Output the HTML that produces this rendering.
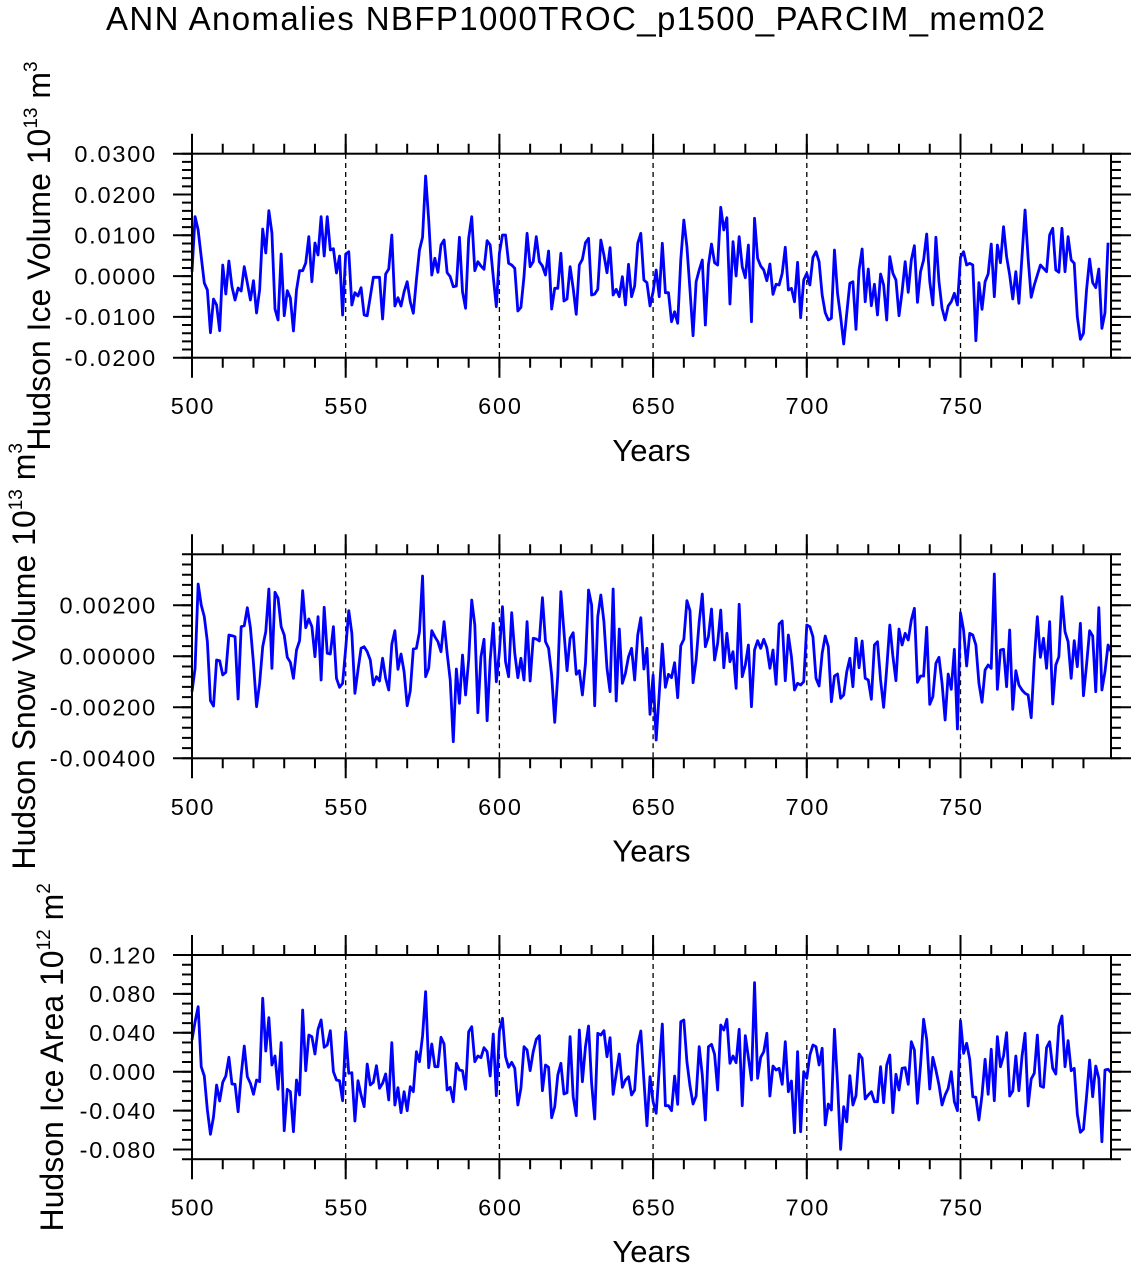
<!DOCTYPE html>
<html><head><meta charset="utf-8"><style>
html,body{margin:0;padding:0;background:#fff;}
svg{display:block;}
text{font-family:"Liberation Sans",Arial,sans-serif;fill:#000;}
.yt{font-size:23.5px;letter-spacing:1.8px;text-anchor:end;}
.xt{font-size:23.5px;letter-spacing:1.8px;text-anchor:middle;}
.yr{font-size:31px;text-anchor:middle;}
.yl{font-size:32px;text-anchor:middle;}
</style></head><body>
<svg width="1136" height="1268" viewBox="0 0 1136 1268" xmlns="http://www.w3.org/2000/svg">
<rect width="1136" height="1268" fill="#fff"/>
<text x="575.5" y="30" font-size="33" text-anchor="middle" textLength="939" lengthAdjust="spacing">ANN Anomalies NBFP1000TROC_p1500_PARCIM_mem02</text>

<!-- dashed verticals -->
<g stroke="#000" stroke-width="1.3" stroke-dasharray="5 4" fill="none">
<path d="M345.7 154V357.7M499.4 154V357.7M653.1 154V357.7M806.8 154V357.7M960.5 154V357.7"/>
<path d="M345.7 554.3V758.3M499.4 554.3V758.3M653.1 554.3V758.3M806.8 554.3V758.3M960.5 554.3V758.3"/>
<path d="M345.7 955V1159.2M499.4 955V1159.2M653.1 955V1159.2M806.8 955V1159.2M960.5 955V1159.2"/>
</g>

<!-- data -->
<g fill="none" stroke="#0000ff" stroke-width="2.8" stroke-linejoin="round">
<polyline transform="translate(192,0) scale(3.074,1)" vector-effect="non-scaling-stroke" points="0,271.7 1,216.7 2,230 3,256.7 4,283 5,290 6,332.7 7,299 8,305 9,330.7 10,265 11,294 12,261 13,286.7 14,300 15,288 16,291 17,266.7 18,283 19,300 20,280.7 21,313 22,290 23,229 24,253 25,210.7 26,233 27,309 28,320 29,254 30,315.7 31,290.7 32,298 33,331 34,290 35,270.7 36,270.7 37,263 38,236.7 39,281.7 40,243 41,255 42,216.7 43,256 44,216.7 45,250 46,248.7 47,273 48,256 49,315 50,254 51,251.7 52,305 53,292.7 54,296 55,287.7 56,315 57,315.7 58,296.7 59,277.3 60,277.3 61,277.3 62,319 63,274 64,269 65,235 66,306 67,297.7 68,306 69,291.7 70,281.7 71,301.7 72,313.3 73,280 74,250 75,237.3 76,176 77,220 78,275 79,258.3 80,272.3 81,245 82,240 83,272.7 84,276.7 85,286.7 86,286 87,237.3 88,291.7 89,308.3 90,238.3 91,216.7 92,270.7 93,261.7 94,266 95,269.3 96,240.7 97,245 98,276.7 99,306.7 100,253.3 101,235 102,235 103,263.3 104,265 105,268.3 106,311 107,307.3 108,276.7 109,233.3 110,266.7 111,261.7 112,236.7 113,261.7 114,266 115,275 116,251 117,309 118,288.3 119,288.3 120,253.3 121,301 122,299 123,266.7 124,288.3 125,314.3 126,265 127,259.3 128,242.7 129,238.3 130,295 131,294 132,289.3 133,240 134,255 135,272.7 136,247.7 137,295 138,289.3 139,296.7 140,276.7 141,305 142,264.3 143,296.7 144,286 145,243.3 146,233.3 147,280 148,282.7 149,306 150,291.7 151,270 152,296.7 153,243.3 154,292.7 155,292.7 156,321.7 157,311.7 158,323.3 159,260 160,220 161,246.7 162,290 163,335.7 164,281.7 165,270 166,260 167,325 168,265 169,244 170,262.7 171,265 172,207.3 173,230 174,217.7 175,304 176,241.7 177,276 178,236.7 179,266.7 180,277.7 181,245 182,321.7 183,218.3 184,258.3 185,266 186,270 187,280.7 188,264 189,294.3 190,284.3 191,285 192,273.3 193,247.3 194,290 195,288.3 196,301.7 197,262.3 198,317.7 199,280 200,273.3 201,285 202,257.3 203,251.7 204,261.7 205,295 206,312.7 207,320 208,318.3 209,250 210,293.3 211,316.7 212,344 213,313.3 214,283.3 215,281.7 216,329.3 217,270 218,249 219,301.7 220,269 221,305.7 222,284.3 223,315 224,274 225,285 226,320 227,256.7 228,273.3 229,280 230,315.7 231,291.7 232,261.7 233,292.3 234,260 235,245.7 236,302.3 237,271.7 238,260 239,234 240,281.7 241,305 242,237.3 243,281.7 244,308.3 245,320 246,306 247,301.7 248,293.3 249,305 250,257.3 251,251.7 252,265 253,263.3 254,265 255,340.7 256,282.7 257,309.3 258,281.7 259,274 260,244 261,296.7 262,245 263,262.7 264,226.7 265,256.7 266,275 267,299 268,271.7 269,303.3 270,256.7 271,210 272,258.3 273,297.3 274,285 275,275 276,265 277,268.3 278,271.7 279,235 280,228.3 281,270 282,272.3 283,228.3 284,271.7 285,236.7 286,260 287,263.3 288,316.7 289,339.3 290,333.3 291,290 292,259 293,282.7 294,287.7 295,269 296,328.3 297,312.7 298,242.7"/>
<polyline transform="translate(192,0) scale(3.074,1)" vector-effect="non-scaling-stroke" points="0,691.7 1,668.3 2,584 3,605 4,616.7 5,641.7 6,700.7 7,706 8,660 9,660.7 10,675 11,672.3 12,635 13,635.7 14,636.7 15,699 16,626.7 17,625.7 18,607.7 19,627.7 20,663.3 21,706.7 22,683.3 23,646.7 24,631.7 25,589 26,668.3 27,592.3 28,598.3 29,626.7 30,635 31,657.3 32,662.3 33,678.3 34,650 35,640.7 36,590.7 37,627.7 38,619 39,626.7 40,656.7 41,616.7 42,680 43,607.3 44,653.3 45,654 46,626.7 47,678.3 48,687.3 49,683.3 50,648.3 51,610.7 52,633.3 53,693.3 54,670 55,648.3 56,646.7 57,651.7 58,660 59,685 60,676.7 61,681 62,658.3 63,678.3 64,690 65,644.3 66,630.7 67,669.3 68,654 69,671.7 70,705.7 71,691 72,649 73,648.3 74,631.7 75,576 76,676.7 77,668.3 78,630.7 79,636.7 80,641.7 81,651.7 82,621.7 83,653.3 84,680 85,741.7 86,669 87,703.3 88,655 89,695 90,660 91,600 92,625 93,712.7 94,656.7 95,639.3 96,720.7 97,660 98,623.3 99,681.7 100,651.7 101,606.7 102,661.7 103,676.7 104,612.7 105,653.3 106,677.7 107,658.3 108,680 109,621.7 110,681 111,638.3 112,639 113,641 114,597.7 115,641.7 116,648.3 117,675 118,722.3 119,675 120,591.7 121,631.7 122,670.7 123,638.3 124,632.7 125,674.3 126,670.7 127,695 128,663.3 129,590 130,605 131,705.7 132,616.7 133,595 134,621.7 135,668.3 136,691.7 137,589 138,701 139,629 140,683.3 141,673.3 142,656.7 143,648.3 144,680 145,635 146,617.7 147,669 148,648.3 149,714.3 150,675 151,740 152,693.3 153,644 154,687.3 155,674.3 156,677.7 157,662.7 158,697.7 159,645.7 160,639.3 161,600.7 162,610.7 163,682.7 164,660 165,621.7 166,594 167,646.7 168,636.7 169,609 170,660 171,643.3 172,610 173,667.7 174,633.3 175,661.7 176,651.7 177,688.3 178,604.3 179,676.7 180,665 181,645 182,706.7 183,650 184,640.7 185,648.3 186,639.3 187,647.7 188,668.3 189,650 190,684.3 191,624 192,621 193,680.7 194,635 195,656.7 196,690 197,683.3 198,685 199,681.7 200,625 201,626.7 202,636.7 203,678.3 204,686 205,653.3 206,636 207,646.7 208,701.7 209,676 210,674 211,698.3 212,695 213,671.7 214,658.3 215,686.7 216,638.3 217,667.7 218,641 219,678.3 220,680 221,699.3 222,645 223,641.7 224,680 225,707.3 226,668.3 227,625 228,656 229,680.7 230,629 231,645 232,633.3 233,640 234,620 235,608.3 236,682.3 237,676 238,676 239,627.3 240,704.3 241,696.7 242,663.3 243,657.3 244,683.3 245,720 246,674 247,689.3 248,649.3 249,729 250,612.7 251,630 252,666 253,633.3 254,635 255,645 256,683.3 257,702.3 258,670 259,665 260,668.3 261,574 262,689.3 263,650 264,649.3 265,686.7 266,630 267,709.3 268,670.7 269,685 270,690 271,693.3 272,695 273,717.7 274,660 275,616.7 276,657.3 277,638.3 278,668.3 279,621.7 280,704 281,665 282,656.7 283,596.7 284,631.7 285,641.7 286,678.3 287,640.7 288,666.7 289,623.3 290,695.7 291,665 292,630.7 293,636 294,691.7 295,607.7 296,690 297,671.7 298,645 299,651.7"/>
<polyline transform="translate(192,0) scale(3.074,1)" vector-effect="non-scaling-stroke" points="0,1040 1,1021.7 2,1006.7 3,1066.7 4,1076 5,1110 6,1134.3 7,1116.7 8,1085 9,1101 10,1082.3 11,1076 12,1057.3 13,1084 14,1084.3 15,1111.7 16,1075 17,1046 18,1076.7 19,1083.3 20,1094.3 21,1080 22,1081.7 23,998.3 24,1051 25,1017.7 26,1065 27,1056 28,1089.3 29,1042.7 30,1130.7 31,1089.3 32,1091.7 33,1131.7 34,1080 35,1095 36,1010 37,1070.7 38,1035 39,1036.7 40,1054 41,1029.3 42,1020 43,1047.3 44,1045 45,1030.7 46,1071.7 47,1080 48,1080.7 49,1100.7 50,1031.7 51,1073.3 52,1072.7 53,1121 54,1080.7 55,1095 56,1106.7 57,1064 58,1085 59,1082.3 60,1065.7 61,1088.3 62,1083.3 63,1074 64,1100 65,1042.7 66,1105 67,1087.7 68,1112.7 69,1091.7 70,1110.7 71,1086.7 72,1091.7 73,1051.7 74,1061.7 75,1036 76,991.7 77,1067.7 78,1044 79,1066.7 80,1066.7 81,1037.3 82,1044 83,1090 84,1087.3 85,1101.7 86,1063.3 87,1070 88,1070.7 89,1089.3 90,1031.7 91,1026.7 92,1061.7 93,1056 94,1057.7 95,1047.7 96,1051.7 97,1076 98,1034 99,1095.7 100,1031 101,1018.3 102,1056.7 103,1067.3 104,1062.3 105,1068.3 106,1105 107,1088.3 108,1046.7 109,1050 110,1070.7 111,1051.7 112,1039.3 113,1035.7 114,1090.7 115,1065 116,1067.3 117,1117.7 118,1106.7 119,1075 120,1063.3 121,1094 122,1092.7 123,1036.7 124,1096.7 125,1115.7 126,1030 127,1081.7 128,1046.7 129,1026 130,1083.3 131,1119 132,1033.3 133,1035 134,1030.7 135,1056.7 136,1037.7 137,1094.3 138,1074 139,1054 140,1087.3 141,1080 142,1076.7 143,1095 144,1090 145,1045 146,1031 147,1080 148,1125.7 149,1076.7 150,1101.7 151,1113.3 152,1068.3 153,1024 154,1105.7 155,1105.7 156,1110.7 157,1076 158,1104.3 159,1021.7 160,1020 161,1061.7 162,1086 163,1104 164,1096 165,1046.7 166,1075 167,1120 168,1046.7 169,1044.3 170,1054.3 171,1090 172,1025 173,1030 174,1019.3 175,1063.3 176,1056 177,1062.7 178,1029.3 179,1105.7 180,1035.7 181,1057.3 182,1080 183,982.7 184,1078.3 185,1057.3 186,1051.7 187,1033.3 188,1096 189,1066 190,1070 191,1068.3 192,1084.3 193,1041.7 194,1091.7 195,1081 196,1132.7 197,1051.7 198,1131.7 199,1071.7 200,1078.3 201,1055 202,1045 203,1046.7 204,1065 205,1048.3 206,1125 207,1104 208,1110 209,1029.3 210,1083.3 211,1149.3 212,1106.7 213,1121.7 214,1075.7 215,1105 216,1095.7 217,1054 218,1058.3 219,1099 220,1095 221,1091.7 222,1101.7 223,1101.7 224,1066.7 225,1102.7 226,1065 227,1055 228,1112.7 229,1074.3 230,1090 231,1068.3 232,1067.7 233,1084.3 234,1041.7 235,1050 236,1103.3 237,1065 238,1019.3 239,1039.3 240,1089 241,1057.3 242,1070 243,1085 244,1105 245,1095 246,1088.3 247,1071.7 248,1101.7 249,1110.7 250,1020.7 251,1053.3 252,1043.3 253,1059.3 254,1096.7 255,1097.3 256,1120 257,1095 258,1059.3 259,1094.3 260,1049.3 261,1100.7 262,1036.7 263,1066.7 264,1056 265,1032.7 266,1096 267,1091 268,1056 269,1090.7 270,1056.7 271,1033.3 272,1106 273,1079 274,1073.3 275,1035 276,1086 277,1087.3 278,1047.7 279,1041.7 280,1068.3 281,1074 282,1026 283,1016 284,1066.7 285,1040.7 286,1070.7 287,1068.3 288,1114 289,1132.3 290,1129.3 291,1096.7 292,1060 293,1096.7 294,1066 295,1078.3 296,1141.7 297,1070 298,1069.3 299,1072.7"/>
</g>

<!-- axes boxes -->
<g fill="none" stroke="#000" stroke-width="2">
<rect x="192" y="153.7" width="919" height="204"/>
<rect x="192" y="554.3" width="919" height="204"/>
<rect x="192" y="955" width="919" height="204.2"/>
</g>

<!-- ticks via dash patterns -->
<g fill="none" stroke="#000">
<line x1="191" y1="362.7" x2="1085" y2="362.7" stroke-width="10" stroke-dasharray="2 28.74"/>
<line x1="191" y1="367.7" x2="962" y2="367.7" stroke-width="20" stroke-dasharray="2 151.7"/>
<line x1="191" y1="148.7" x2="1085" y2="148.7" stroke-width="10" stroke-dasharray="2 28.74"/>
<line x1="191" y1="143.7" x2="962" y2="143.7" stroke-width="20" stroke-dasharray="2 151.7"/>
<line x1="187" y1="152.7" x2="187" y2="359" stroke-width="10" stroke-dasharray="2 6.16"/>
<line x1="182.5" y1="152.7" x2="182.5" y2="359" stroke-width="19" stroke-dasharray="2 38.8"/>
<line x1="1116" y1="152.7" x2="1116" y2="359" stroke-width="10" stroke-dasharray="2 6.16"/>
<line x1="1121" y1="152.7" x2="1121" y2="359" stroke-width="20" stroke-dasharray="2 38.8"/>

<line x1="191" y1="763.3" x2="1085" y2="763.3" stroke-width="10" stroke-dasharray="2 28.74"/>
<line x1="191" y1="768.3" x2="962" y2="768.3" stroke-width="20" stroke-dasharray="2 151.7"/>
<line x1="191" y1="549.3" x2="1085" y2="549.3" stroke-width="10" stroke-dasharray="2 28.74"/>
<line x1="191" y1="544.3" x2="962" y2="544.3" stroke-width="20" stroke-dasharray="2 151.7"/>
<line x1="187" y1="553.3" x2="187" y2="760" stroke-width="10" stroke-dasharray="2 8.2"/>
<line x1="182.5" y1="604.3" x2="182.5" y2="760" stroke-width="19" stroke-dasharray="2 49"/>
<line x1="1116" y1="553.3" x2="1116" y2="760" stroke-width="10" stroke-dasharray="2 8.2"/>
<line x1="1121" y1="604.3" x2="1121" y2="760" stroke-width="20" stroke-dasharray="2 49"/>

<line x1="191" y1="1164.2" x2="1085" y2="1164.2" stroke-width="10" stroke-dasharray="2 28.74"/>
<line x1="191" y1="1169.2" x2="962" y2="1169.2" stroke-width="20" stroke-dasharray="2 151.7"/>
<line x1="191" y1="950" x2="1085" y2="950" stroke-width="10" stroke-dasharray="2 28.74"/>
<line x1="191" y1="945" x2="962" y2="945" stroke-width="20" stroke-dasharray="2 151.7"/>
<line x1="187" y1="954" x2="187" y2="1161" stroke-width="10" stroke-dasharray="2 7.725"/>
<line x1="182.5" y1="954" x2="182.5" y2="1151" stroke-width="19" stroke-dasharray="2 36.9"/>
<line x1="1116" y1="954" x2="1116" y2="1161" stroke-width="10" stroke-dasharray="2 7.725"/>
<line x1="1121" y1="954" x2="1121" y2="1151" stroke-width="20" stroke-dasharray="2 36.9"/>
</g>

<!-- y tick labels -->
<g>
<text class="yt" x="157" y="162">0.0300</text>
<text class="yt" x="157" y="202.8">0.0200</text>
<text class="yt" x="157" y="243.6">0.0100</text>
<text class="yt" x="157" y="284.4">0.0000</text>
<text class="yt" x="157" y="325.2">-0.0100</text>
<text class="yt" x="157" y="366">-0.0200</text>

<text class="yt" x="157" y="613.6">0.00200</text>
<text class="yt" x="157" y="664.6">0.00000</text>
<text class="yt" x="157" y="715.6">-0.00200</text>
<text class="yt" x="157" y="766.6">-0.00400</text>

<text class="yt" x="157" y="963.3">0.120</text>
<text class="yt" x="157" y="1002.2">0.080</text>
<text class="yt" x="157" y="1041.1">0.040</text>
<text class="yt" x="157" y="1080">0.000</text>
<text class="yt" x="157" y="1118.9">-0.040</text>
<text class="yt" x="157" y="1157.8">-0.080</text>
</g>

<!-- x tick labels -->
<g>
<text class="xt" x="193" y="414">500</text><text class="xt" x="346.7" y="414">550</text><text class="xt" x="500.4" y="414">600</text><text class="xt" x="654.1" y="414">650</text><text class="xt" x="807.8" y="414">700</text><text class="xt" x="961.5" y="414">750</text>
<text class="xt" x="193" y="814.8">500</text><text class="xt" x="346.7" y="814.8">550</text><text class="xt" x="500.4" y="814.8">600</text><text class="xt" x="654.1" y="814.8">650</text><text class="xt" x="807.8" y="814.8">700</text><text class="xt" x="961.5" y="814.8">750</text>
<text class="xt" x="193" y="1215.7">500</text><text class="xt" x="346.7" y="1215.7">550</text><text class="xt" x="500.4" y="1215.7">600</text><text class="xt" x="654.1" y="1215.7">650</text><text class="xt" x="807.8" y="1215.7">700</text><text class="xt" x="961.5" y="1215.7">750</text>
</g>

<!-- x axis titles -->
<text class="yr" x="651.5" y="461">Years</text>
<text class="yr" x="651.5" y="861.5">Years</text>
<text class="yr" x="651.5" y="1262">Years</text>

<!-- y axis titles -->
<text class="yl" transform="translate(50,256) rotate(-90)">Hudson Ice Volume 10<tspan font-size="19" dy="-13">13</tspan><tspan dy="13"> m</tspan><tspan font-size="19" dy="-13">3</tspan></text>
<text class="yl" transform="translate(35,656.3) rotate(-90)">Hudson Snow Volume 10<tspan font-size="19" dy="-13">13</tspan><tspan dy="13"> m</tspan><tspan font-size="19" dy="-13">3</tspan></text>
<text class="yl" transform="translate(63,1057.3) rotate(-90)">Hudson Ice Area 10<tspan font-size="19" dy="-13">12</tspan><tspan dy="13"> m</tspan><tspan font-size="19" dy="-13">2</tspan></text>
</svg>
</body></html>
